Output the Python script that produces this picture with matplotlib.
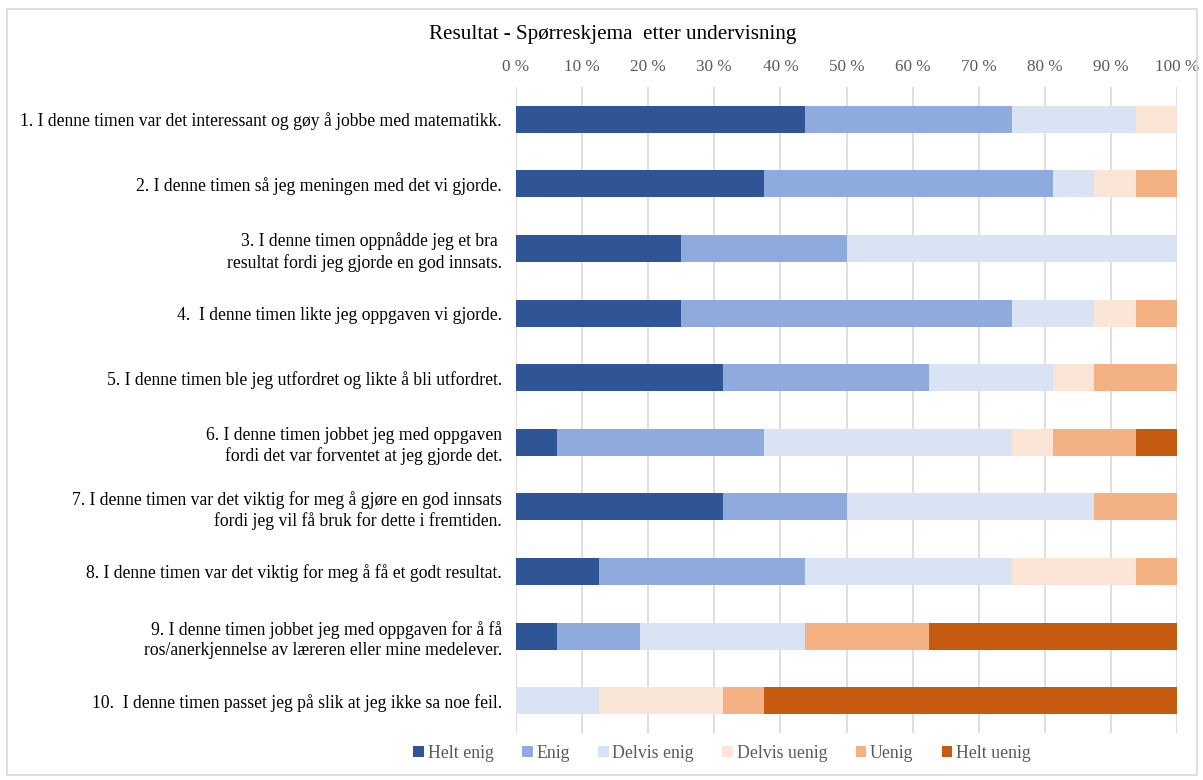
import numpy as np
import matplotlib
matplotlib.use("Agg")
import matplotlib.pyplot as plt
from matplotlib.patches import Rectangle

plt.rcParams['font.family'] = ['Liberation Serif', 'DejaVu Serif']

questions = [
    "1. I denne timen var det interessant og gøy å jobbe med matematikk.",
    "2. I denne timen så jeg meningen med det vi gjorde.",
    "3. I denne timen oppnådde jeg et bra \nresultat fordi jeg gjorde en god innsats.",
    "4.  I denne timen likte jeg oppgaven vi gjorde.",
    "5. I denne timen ble jeg utfordret og likte å bli utfordret.",
    "6. I denne timen jobbet jeg med oppgaven\nfordi det var forventet at jeg gjorde det.",
    "7. I denne timen var det viktig for meg å gjøre en god innsats\nfordi jeg vil få bruk for dette i fremtiden.",
    "8. I denne timen var det viktig for meg å få et godt resultat.",
    "9. I denne timen jobbet jeg med oppgaven for å få\nros/anerkjennelse av læreren eller mine medelever.",
    "10.  I denne timen passet jeg på slik at jeg ikke sa noe feil.",
]

categories = ["Helt enig", "Enig", "Delvis enig", "Delvis uenig", "Uenig", "Helt uenig"]
colors = ["#2F5597", "#8FAADC", "#DAE3F3", "#FBE5D6", "#F4B183", "#C55A11"]

# andel i prosent (16 svar)
helt_enig    = [43.75, 37.5, 25.0, 25.0, 31.25, 6.25, 31.25, 12.5, 6.25, 0.0]
enig         = [31.25, 43.75, 25.0, 50.0, 31.25, 31.25, 18.75, 31.25, 12.5, 0.0]
delvis_enig  = [18.75, 6.25, 50.0, 12.5, 18.75, 37.5, 37.5, 31.25, 25.0, 12.5]
delvis_uenig = [6.25, 6.25, 0.0, 6.25, 6.25, 6.25, 0.0, 18.75, 0.0, 18.75]
uenig        = [0.0, 6.25, 0.0, 6.25, 12.5, 12.5, 12.5, 6.25, 18.75, 6.25]
helt_uenig   = [0.0, 0.0, 0.0, 0.0, 0.0, 6.25, 0.0, 0.0, 37.5, 62.5]

series = [helt_enig, enig, delvis_enig, delvis_uenig, uenig, helt_uenig]

fig = plt.figure(figsize=(12.03, 7.8), dpi=100)
ax = fig.add_axes([516/1203, 1 - 733/780, (1177-516)/1203, (733-87)/780])

y = np.arange(len(questions))
left = np.zeros(len(questions))
for vals, name, col in zip(series, categories, colors):
    ax.barh(y, vals, left=left, height=0.42, color=col, label=name, zorder=3)
    left += np.array(vals)

ax.set_xlim(0, 100)
ax.set_ylim(len(questions) - 0.5, -0.5)
ax.set_yticks(y)
ax.set_yticklabels(questions, fontsize=12.7, color="#000000", linespacing=1.25)
ax.set_xticks(np.arange(0, 101, 10))
ax.set_xticklabels([f"{v} %" for v in range(0, 101, 10)], fontsize=12.3, color="#595959")
ax.xaxis.tick_top()
ax.tick_params(axis='both', length=0)
ax.tick_params(axis='x', pad=8.5)
ax.tick_params(axis='y', pad=10)
ax.grid(axis='x', color="#D9D9D9", linewidth=1.2, zorder=0)
for s in ax.spines.values():
    s.set_visible(False)

fig.text(613/1203, 1 - 35/780, "Resultat - Spørreskjema  etter undervisning",
         ha='center', va='center', fontsize=15.2)

handles, labels = ax.get_legend_handles_labels()
fig.legend(handles, labels, loc='center', bbox_to_anchor=(722/1203, 1 - 753/780),
           ncol=6, frameon=False, fontsize=12.8, handlelength=0.6, handleheight=0.6,
           handletextpad=0.2, columnspacing=1.6, labelcolor="#595959")

fig.patches.append(Rectangle((7/1203, 1 - 775/780), (1197-7)/1203, (775-9)/780,
                             transform=fig.transFigure, fill=False,
                             edgecolor="#D9D9D9", linewidth=1.2))

fig.savefig("out.png", dpi=100)
